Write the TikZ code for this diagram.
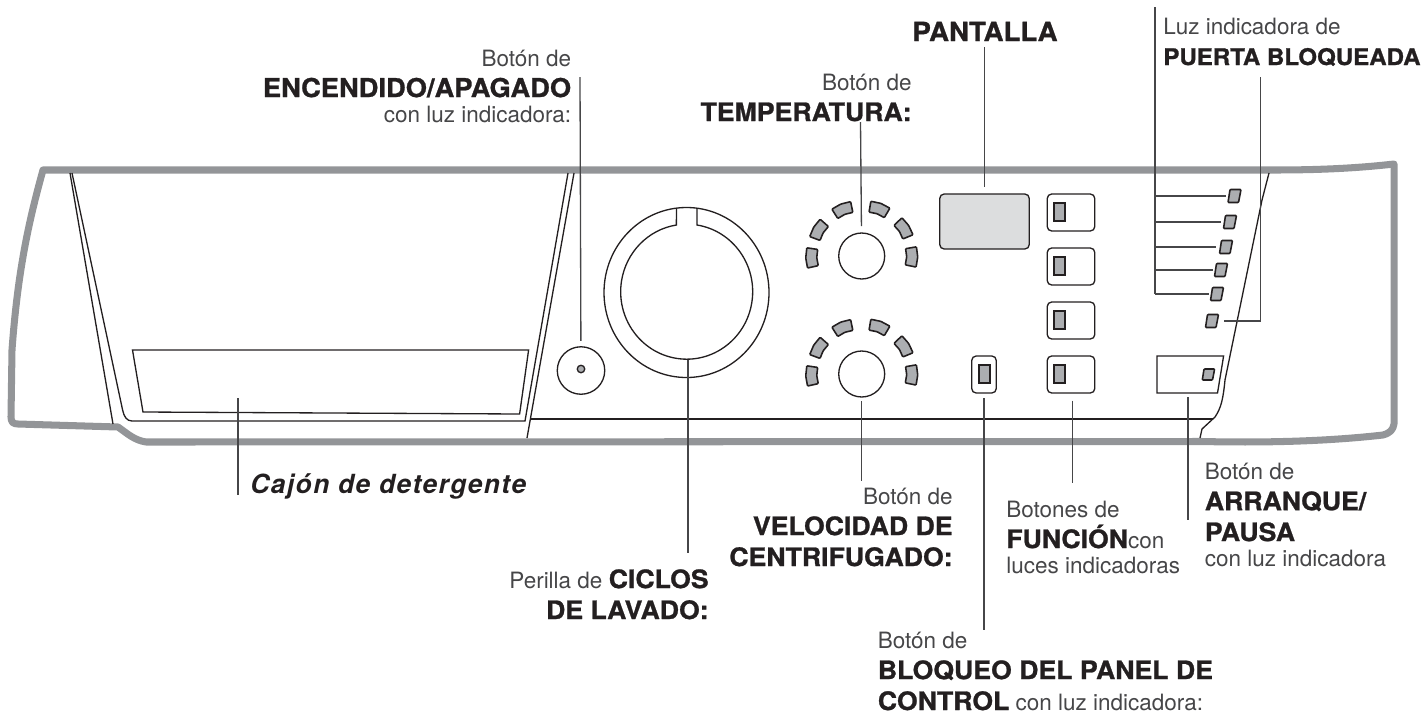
\documentclass[tikz,border=0pt]{standalone}
\usepackage{fontspec}
\setmainfont{TeX Gyre Heros}
\newfontfamily\blackfont{TeX Gyre Heros}[BoldFeatures={FakeBold=1,FakeStretch=1.05}]
\definecolor{panelgray}{RGB}{147,149,152}
\definecolor{ledgray}{RGB}{172,174,177}
\definecolor{screengray}{RGB}{220,221,222}
\definecolor{inkblack}{RGB}{35,31,32}
\definecolor{leadgray}{RGB}{70,70,72}
\definecolor{lighttext}{RGB}{70,70,72}
\newcommand{\blk}[2][14.45]{{\blackfont\bfseries\fontsize{#1}{17.6}\selectfont\color{inkblack}#2}}
\tikzset{
  shell/.style={panelgray, line width=4pt, line join=round},
  edgeline/.style={inkblack, line width=0.75pt},
  leader/.style={leadgray, line width=0.75pt},
  ledfill/.style={draw=inkblack, fill=ledgray, line width=0.9pt, rounded corners=0.5pt},
  knob/.style={circle, draw=inkblack, line width=0.75pt, minimum size=0.92cm, inner sep=0pt},
  funcbtn/.style={draw=inkblack, line width=0.75pt, rounded corners=2.5pt, minimum width=0.95cm, minimum height=0.74cm, inner sep=0pt},
  labeltext/.style={font=\fontsize{12.8}{17.6}\selectfont, text=lighttext, inner sep=0pt}
}
\begin{document}
\begin{tikzpicture}[x=0.02cm, y=-0.02cm]
\useasboundingbox (0,0) rectangle (1423,714);

% --- Panel outline ---
\draw[shell] (43,170) .. controls (30,217) and (18,267) .. (12,350) -- (11,417)
  .. controls (11,422) and (13,424) .. (18,424) -- (118,427)
  .. controls (128,434) and (134,440) .. (146,442) -- (1202,441.5)
  .. controls (1270,443) and (1330,441) .. (1383,435)
  .. controls (1390,433) and (1393,430) .. (1394,424) -- (1394,164)
  .. controls (1350,169) and (1310,170) .. (1272,170) -- cycle;

% --- Detergent drawer ---
\draw[edgeline] (70,173) -- (113,424);
\draw[edgeline] (72,173) -- (122.6,410) .. controls (124,417) and (127,421) .. (132,421) -- (525,421) -- (568,173);
\draw[edgeline] (574,173) -- (527,438);
\draw[edgeline] (132.5,350) -- (528.6,350) -- (519.6,414) -- (143,412) -- cycle;
\draw[edgeline] (530,419) -- (1213,419);

% Right edge
\draw[edgeline] (1269,173) -- (1262,200) -- (1225,380) .. controls (1223,400) and (1221,408) .. (1215,417) -- (1202,429) -- (1200,438);

% --- Power button ---
\node[knob, minimum size=0.95cm] (powerbtn) at (581,370.5) {};
\node[circle, draw=inkblack, fill=ledgray, line width=0.75pt, minimum size=0.15cm, inner sep=0pt] (powerled) at (581,369) {};

% --- Cycle dial ---
\draw[edgeline] (686.5,292.5) ellipse [x radius=82.5, y radius=85];
\draw[edgeline] (697,208) -- (697,225) arc [start angle=-81, end angle=261, x radius=66, y radius=67.5] -- (676.5,208);
\coordinate (dialbottom) at (688,360);
\coordinate (dialend) at (688,553);

% --- Temperature and spin knobs ---
\node[knob] (tempknob) at (861.7,256) {};
\node[knob] (spinknob) at (861.7,374) {};
\foreach \kx/\ky in {861.7/256, 861.7/374}
  \foreach \a in {1,-33,-70,-112,-149,-182}
    \draw[ledfill, shift={(\kx,\ky)}] (\a-10.5:44.5) -- (\a-10.5:55.5) -- (\a:56) -- (\a+10.5:55.5) -- (\a+10.5:44.5) -- (\a:45) -- cycle;

% --- Display ---
\node[funcbtn, fill=screengray, minimum width=1.79cm, minimum height=1.1cm] (screen) at (984.5,221.5) {};

% --- Function buttons ---
\foreach \n/\y in {1/212.5, 2/266.5, 3/320.5, 4/374.5} {
  \node[funcbtn] (func\n) at (1071,\y) {};
  \node[draw=inkblack, fill=ledgray, line width=0.9pt, minimum width=0.21cm, minimum height=0.36cm, inner sep=0pt] (funcled\n) at (1059.5,\y-0.5) {};
}

% --- Lock button ---
\node[funcbtn, minimum width=0.49cm] (lockbtn) at (984,374.5) {};
\node[draw=inkblack, fill=ledgray, line width=0.9pt, minimum width=0.21cm, minimum height=0.36cm, inner sep=0pt] (lockled) at (984.5,374) {};

% --- Start button ---
\draw[edgeline] (1157,356) -- (1223.6,356) -- (1217.5,393) -- (1157,393) -- cycle;
\draw[ledfill] (1204,369) -- (1214.6,369) -- (1212.5,380) -- (1202.3,380) -- cycle;
\coordinate (startbottom) at (1188,397);

% --- Side lights ---
\coordinate (doortop) at (1155,7);
\foreach \n/\x/\y/\e in {1/1234.5/196/1226, 2/1230/222/1221, 3/1226/247/1216, 4/1221/270/1213, 5/1217/294/1209, 6/1212/321/1224} {
  \draw[ledfill, shift={(\x,\y)}] (-6.5,6.5) -- (-4.5,-6.5) -- (6.5,-6.5) -- (4,6.5) -- cycle;
  \coordinate (sideled\n) at (\e,\y);
}
\foreach \n in {1,...,5} {
  \coordinate (doorjoin\n) at (1155,0 |- sideled\n);
  \draw[leader] (doorjoin\n) -- (sideled\n);
}
\draw[leader] (doortop) -- (doorjoin5);
\coordinate (locktop) at (1260.5,77);
\coordinate (lockcorner) at (1260.5,321);
\draw[leader] (locktop) -- (lockcorner) -- (sideled6);

% --- Labels ---
\node[labeltext, anchor=base east, align=right] (powerlabel) at (571.5,122) {Botón de\\\blk[14.8]{ENCENDIDO/APAGADO}\\[-3.4pt]con luz indicadora:};
\node[labeltext, anchor=base east, align=right] (templabel) at (912,121) {Botón de\\\blk{TEMPERATURA:}};
\node[labeltext, anchor=base] (screenlabel) at (985,41) {\blk[15]{PANTALLA}};
\node[labeltext, anchor=base west, align=left] (doorlabel) at (1163,65) {Luz indicadora de\\\blk[13.05]{PUERTA BLOQUEADA}};
\node[labeltext, anchor=base west] (drawerlabel) at (250,493) {{\blackfont\bfseries\itshape\fontsize{15}{17.6}\selectfont\addfontfeatures{LetterSpace=5.5}\color{inkblack}Cajón de detergente}};
\node[labeltext, anchor=base east, align=right] (dillabel) at (709,619) {Perilla de \blk{CICLOS}\\\blk{DE LAVADO:}};
\node[labeltext, anchor=base east, align=right] (spinlabel) at (953,566) {Botón de\\\blk{VELOCIDAD DE}\\\blk{CENTRIFUGADO:}};
\node[labeltext, anchor=base west, align=left] (funclabel) at (1006,573) {Botones de\\\blk{FUNCIÓN}con\\[-3.4pt]luces indicadoras};
\node[labeltext, anchor=base west, align=left] (startlabel) at (1204.5,566) {Botón de\\\blk{ARRANQUE/}\\\blk{PAUSA}\\[-3.4pt]con luz indicadora};
\node[labeltext, anchor=base west, align=left] (locklabel) at (877.5,710) {Botón de\\\blk{BLOQUEO DEL PANEL DE}\\\blk{CONTROL} con luz indicadora:};

% --- Leaders ---
\coordinate (powertop) at (580,77);
\coordinate (temptop) at (860.5,122);
\coordinate (screentop) at (984.5,47);
\coordinate (drawertop) at (238,398);
\coordinate (drawerend) at (238,495);
\coordinate (spinend) at (861.7,481);
\coordinate (lockend) at (984,630);
\coordinate (funcend) at (1072.5,483);
\coordinate (startend) at (1188,520);
\draw[leader, shorten >=3pt] (powertop) -- (powerbtn);
\draw[leader, shorten >=3.5pt] (temptop) -- (tempknob);
\draw[leader, shorten >=3.4pt] (screentop) -- (screen);
\draw[leader] (drawertop) -- (drawerend);
\draw[leader] (dialbottom) -- (dialend);
\draw[leader, shorten <=2pt] (spinknob) -- (spinend);
\draw[leader, shorten <=2.5pt] (lockbtn) -- (lockend);
\draw[leader, shorten <=4pt] (func4.south -| funcend) -- (funcend);
\draw[leader] (startbottom) -- (startend);

\end{tikzpicture}
\end{document}
